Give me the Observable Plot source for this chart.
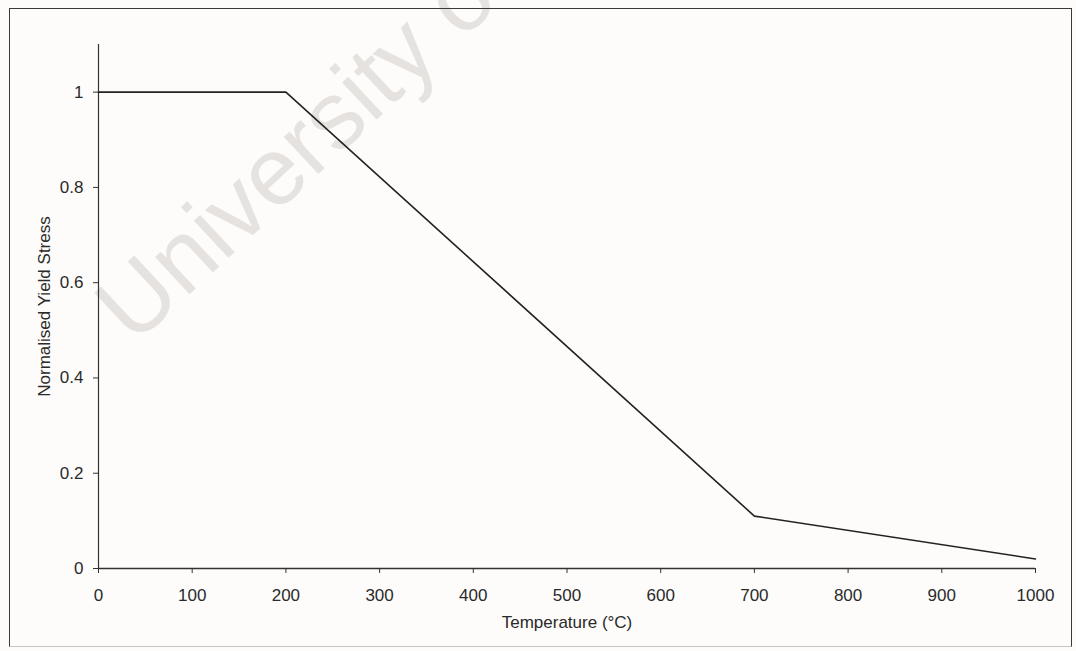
<!DOCTYPE html>
<html>
<head>
<meta charset="utf-8">
<script src="https://cdn.jsdelivr.net/npm/d3@7"></script>
<script src="https://cdn.jsdelivr.net/npm/@observablehq/plot@0.6"></script>
<style>
  html, body { margin: 0; padding: 0; background: #fdfcfa; }
  #wrap { position: relative; width: 1076px; height: 651px; overflow: hidden; }
  #wm { position: absolute; left: 0; top: 0; }
  #chart { position: absolute; left: 0; top: 0; }
  #border { position: absolute; left: 9px; top: 8px; width: 1063px; height: 639px;
            border: 1.5px solid #3a3a3a; border-bottom-color: #c4c4c4; box-sizing: border-box; }
</style>
</head>
<body>
<div id="wrap">
  <svg id="wm" width="1076" height="651">
    <text x="134" y="346" transform="rotate(-43 134 346)" font-family="Liberation Sans, Arial, sans-serif"
          font-size="96" fill="#e6e2df">University of Cape Town</text>
  </svg>
  <div id="chart"></div>
  <div id="border"></div>
</div>
<script>
const temperature = [0, 200, 700, 1000];
const stress = [1, 1, 0.11, 0.02];
const xTicks = [0, 100, 200, 300, 400, 500, 600, 700, 800, 900, 1000];
const yTicks = [0, 0.2, 0.4, 0.6, 0.8, 1];

const data = temperature.map((t, i) => ({t, s: stress[i]}));

const chart = Plot.plot({
  width: 1076,
  height: 651,
  marginLeft: 98,
  marginRight: 41,
  marginTop: 44,
  marginBottom: 83,
  style: { background: "transparent", fontFamily: "Liberation Sans, Arial, sans-serif", fontSize: "17px", color: "#2a2a2a" },
  x: { domain: [0, 1000], label: null },
  y: { domain: [0, 1.1], label: null },
  marks: [
    Plot.ruleX([0], { y1: 0, y2: 1.1, stroke: "#333", strokeWidth: 1.2 }),
    Plot.ruleY([0], { x1: 0, x2: 1000, stroke: "#333", strokeWidth: 1.5 }),
    Plot.axisX({ ticks: xTicks, tickFormat: d => String(d), tickSize: 5, tickPadding: 15, stroke: "#333",
                 label: "Temperature (°C)", labelAnchor: "center", labelArrow: "none", labelOffset: 59 }),
    Plot.axisY({ ticks: yTicks, tickFormat: d => String(d), tickSize: 5, tickPadding: 10, stroke: "#333",
                 label: "Normalised Yield Stress", labelAnchor: "center", labelArrow: "none", labelOffset: 61 }),
    Plot.line(data, { x: "t", y: "s", stroke: "#222", strokeWidth: 1.6 })
  ]
});
document.getElementById("chart").appendChild(chart);
</script>
</body>
</html>
